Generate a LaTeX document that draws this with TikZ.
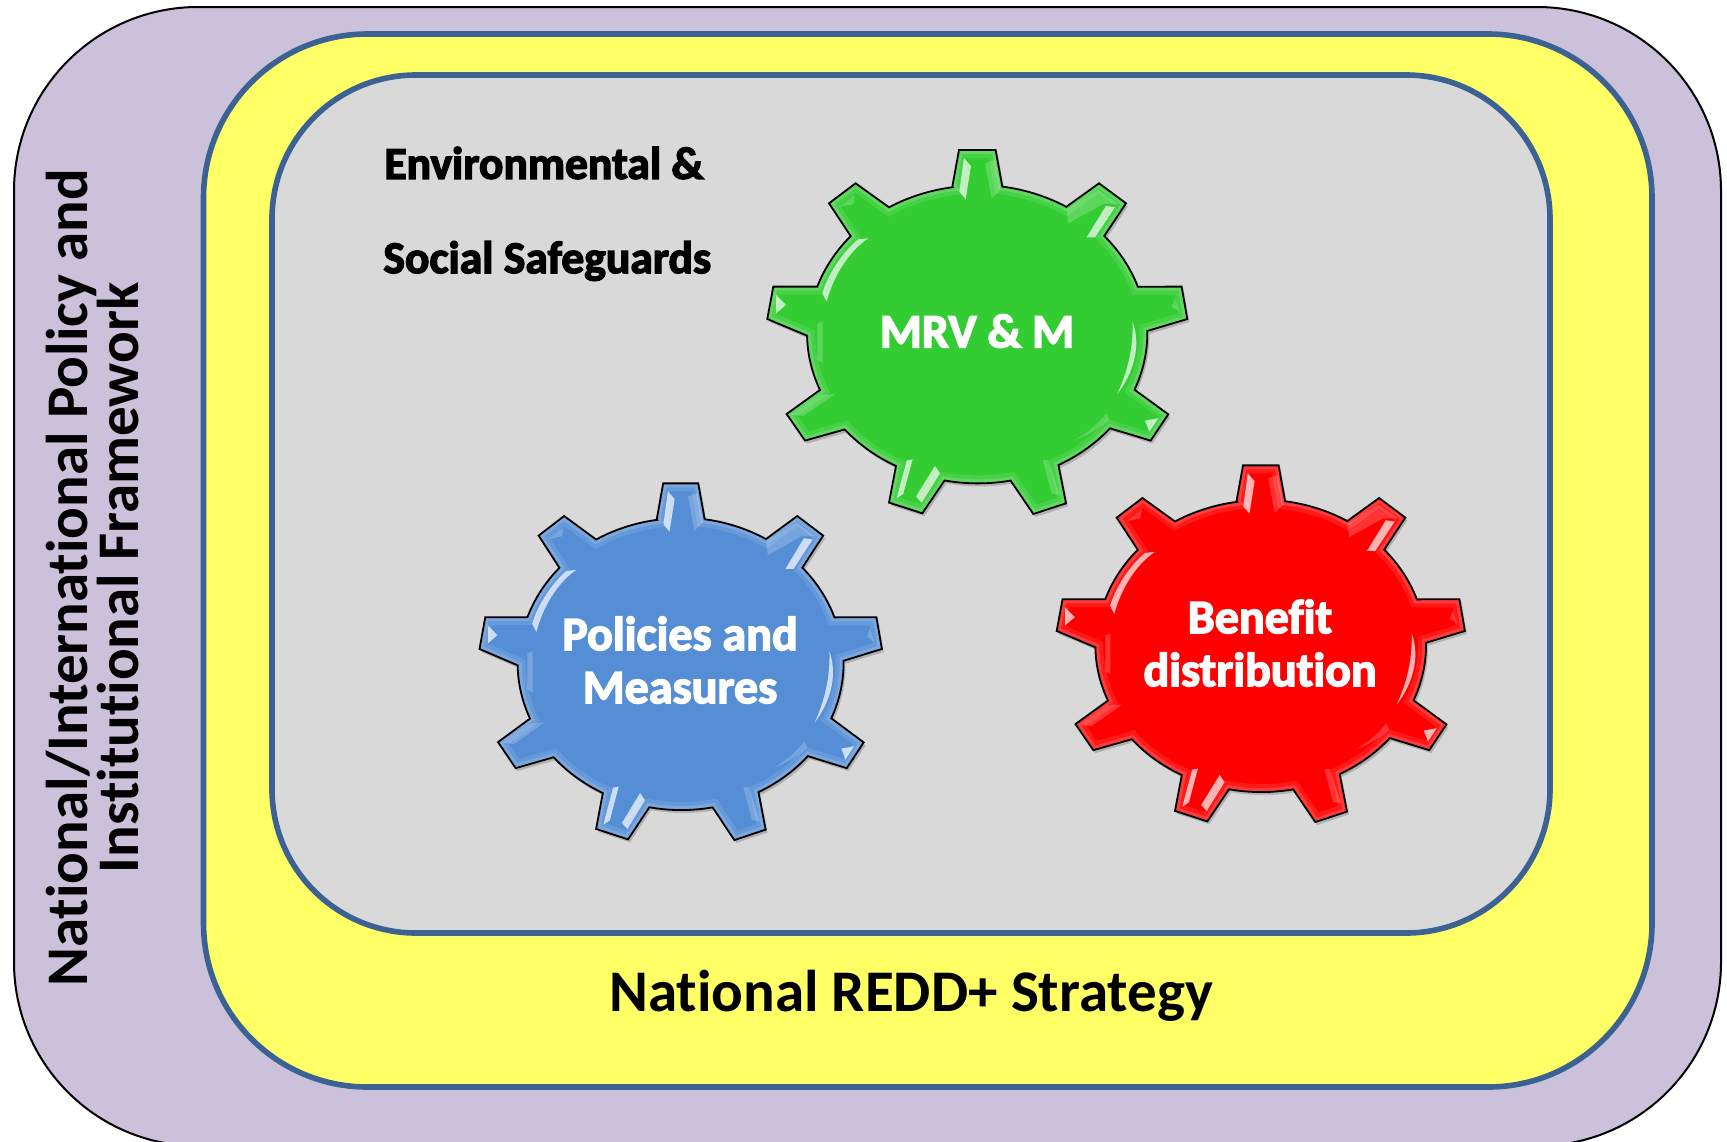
\documentclass[tikz,border=0pt]{standalone}
\usepackage{fontspec}
\setmainfont{Carlito}[Ligatures=NoCommon]
\newfontfamily\plainb{Carlito Bold}[Ligatures=NoCommon]
\newfontfamily\glowf{Carlito Bold}[FakeBold=3,Ligatures=NoCommon]
\definecolor{lilac}{HTML}{CCC1DA}
\definecolor{lemon}{HTML}{FFFF66}
\definecolor{pane}{HTML}{D9D9D9}
\definecolor{steel}{HTML}{3B6293}
\definecolor{gearg}{HTML}{33CC33}
\definecolor{gearb}{HTML}{558ED5}
\definecolor{gearr}{HTML}{FF0000}
\newcommand{\gearpath}{
  (-25,146.7) -- (-18.3,183.3) -- (18.3,183.3) -- (25,146.7)
  arc[start angle=81.6,end angle=58.5,x radius=170,y radius=148]
  -- (121.7,150) -- (148.7,130) -- (127,97.3)
  arc[start angle=41.3,end angle=18.5,x radius=170,y radius=148]
  -- (204.3,46.7) -- (210,14.3) -- (170,2.3)
  arc[start angle=0.9,end angle=-22.4,x radius=170,y radius=148]
  -- (191,-81) -- (173.3,-107.3) -- (132.7,-95)
  arc[start angle=-39.4,end angle=-62,x radius=170,y radius=148]
  -- (88.7,-170) -- (56,-180.7) -- (33.3,-147.3)
  arc[start angle=-78.9,end angle=-101.3,x radius=170,y radius=148]
  -- (-55,-180) -- (-88.3,-169.3) -- (-81.3,-132.7)
  arc[start angle=-118,end angle=-140.5,x radius=170,y radius=148]
  -- (-172.3,-107.3) -- (-190.7,-80.7) -- (-157.3,-56.7)
  arc[start angle=-157.5,end angle=-179.1,x radius=170,y radius=148]
  -- (-210,14.3) -- (-204,46.7) -- (-160,46.7)
  arc[start angle=-198.6,end angle=-221.3,x radius=170,y radius=148]
  -- (-148.3,130) -- (-121.7,150) -- (-88.3,126)
  arc[start angle=-238.6,end angle=-261.6,x radius=170,y radius=148]
  -- cycle}
\tikzset{
  outerbox/.style={fill=lilac,draw=black,line width=1pt,rounded corners=92pt},
  midbox/.style={fill=lemon,draw=steel,line width=2.8pt,rounded corners=82pt},
  innerbox/.style={fill=pane,draw=steel,line width=2.8pt,rounded corners=72pt},
  geartext/.style={text=white,font=\glowf\fontsize{24}{26.5}\selectfont,align=center,inner sep=0pt},
  safetext/.style={text=black,font=\glowf\fontsize{22.8}{24}\selectfont,anchor=west,inner sep=0pt},
  strat/.style={text=black,font=\plainb\fontsize{29.5}{32}\selectfont,inner sep=0pt},
  frame/.style={text=black,font=\plainb\fontsize{29.5}{25.5}\selectfont,align=center,inner sep=0pt,rotate=90},
  hibright/.style={fill=white,fill opacity=.7},
  hifaint/.style={fill=white,fill opacity=.2}
}
\newcommand{\gearshape}[4]{%
  \begin{scope}[shift={(#1)},xscale=#2,yscale=#3]
    \fill[black,opacity=.18,shift={(2,-3)}] \gearpath;
    \fill[#4] \gearpath;
    \begin{scope}
      \clip \gearpath;
      \draw[white,opacity=.10,line width=8pt] \gearpath;
      \draw[white,opacity=.14,line width=4pt] \gearpath;
    \end{scope}
    \draw[black,line width=.9pt,line join=miter] \gearpath;
    \begin{scope}[shift={(-237.33,203.33)},xscale=0.3333,yscale=-0.3333]
      % top tooth
      \path[hibright] (672,85) -- (693,108) -- (677,208) -- (658,185) -- cycle;
      \path[hifaint] (735,100) -- (765,90) -- (782,180) -- (755,205) -- cycle;
      % upper right tooth
      \path[hibright] (1098,228) -- (1125,232) -- (1065,322) -- (1040,322) -- cycle;
      \path[hifaint] (1075,180) -- (1135,222) -- (1090,222) -- (985,280) -- (980,240) -- cycle;
      % right tooth
      \path[hifaint] (1305,505) -- (1318,545) -- (1295,530) -- cycle;
      % right crescent
      \path[hibright] (1178,575) .. controls (1205,650) and (1180,730) .. (1132,792) .. controls (1165,720) and (1180,650) .. cycle;
      % lower right tooth
      \path[hibright] (1255,865) -- (1215,872) -- (1228,905) -- cycle;
      % lower right arc
      \path[hifaint] (1100,850) .. controls (1065,890) and (1040,910) .. (1005,930) .. controls (1045,915) and (1080,895) .. (1108,868) -- cycle;
      % bottom right tooth
      \path[hifaint] (908,990) -- (925,990) -- (960,1095) -- (935,1090) -- cycle;
      % bottom left tooth
      \path[hibright] (500,992) -- (518,988) -- (490,1092) -- (470,1105) -- cycle;
      \path[hibright] (585,1008) -- (600,1030) -- (545,1118) -- (528,1100) -- cycle;
      % lower left tooth
      \path[hifaint] (285,792) -- (190,858) -- (155,855) -- (240,795) -- cycle;
      % left straight
      \path[hifaint] (232,580) -- (248,575) -- (248,700) -- (232,690) -- cycle;
      % left tooth
      \path[hibright] (108,495) -- (138,525) -- (108,550) -- cycle;
      % upper left crescent
      \path[hibright] (385,325) .. controls (325,365) and (280,440) .. (260,515) -- (247,490) .. controls (265,430) and (310,365) .. (355,328) -- cycle;
      % upper left tooth
      \path[hifaint] (345,195) -- (340,222) -- (295,232) -- cycle;
    \end{scope}
  \end{scope}}
\begin{document}
\begin{tikzpicture}[x=0.5pt,y=0.5pt]
  \useasboundingbox (0,0) rectangle (1727,-1141);
  \clip (0,0) rectangle (1727,-1141);
  \fill[white] (0,0) rectangle (1727,-1141);
  \path[outerbox] (14,-7) rectangle (1721,-1146);
  \path[midbox] (203.5,-34) rectangle (1652,-1087);
  \path[innerbox] (272,-75) rectangle (1550,-933);
  \gearshape{977.3,-333.3}{1}{1}{gearg}
  \gearshape{680.7,-663}{0.958}{0.98}{gearb}
  \gearshape{1260.8,-645}{0.972}{0.98}{gearr}
  \node[safetext] (envtext) at (384,-163) {Environmental \&};
  \node[safetext] (soctext) at (383,-261) {Social Safeguards};
  \node[geartext] (mrv) at (977,-331) {MRV \& M};
  \node[geartext] (pam) at (680,-660) {Policies and\\Measures};
  \node[geartext] (ben) at (1260,-643) {Benefit\\distribution};
  \node[strat] (redd) at (911,-996) {National REDD+ Strategy};
  \node[frame] (policy) at (93,-578) {National/International Policy and\\Institutional Framework};
\end{tikzpicture}
\end{document}
